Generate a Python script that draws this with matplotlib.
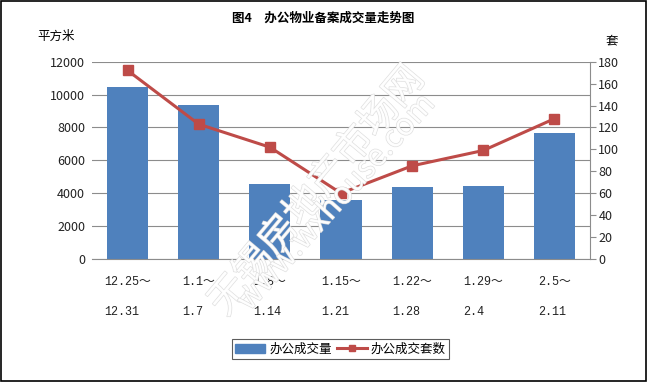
import numpy as np
import matplotlib
matplotlib.use('Agg')
import matplotlib.pyplot as plt
import matplotlib.patheffects as pe
from matplotlib.patches import Rectangle
from matplotlib.lines import Line2D

plt.rcParams['font.family'] = ['Noto Sans CJK SC', 'DejaVu Sans']

# 数据
weeks = ['12.25～\n\n12.31', '1.1～\n\n1.7', '1.8～\n\n1.14', '1.15～\n\n1.21',
         '1.22～\n\n1.28', '1.29～\n\n2.4', '2.5～\n\n2.11']
area = [10450, 9370, 4580, 3600, 4400, 4460, 7680]  # 办公成交量（平方米）
units = [172, 123, 102, 60, 85, 99, 128]  # 办公成交套数
left_ticks = [0, 2000, 4000, 6000, 8000, 10000, 12000]
right_ticks = [0, 20, 40, 60, 80, 100, 120, 140, 160, 180]

bar_color = '#4F81BD'
line_color = '#BE4B48'
grid_color = '#8C8C8C'

fig = plt.figure(figsize=(6.47, 3.82), dpi=100)
ax = fig.add_axes([0.1422, 0.322, 0.7697, 0.5165])
x = np.arange(len(area))

ax.bar(x, area, width=0.58, color=bar_color, zorder=2)
ax.set_xlim(-0.5, len(area) - 0.5)
ax.set_ylim(0, 12000)
ax.set_yticks(left_ticks)
ax.yaxis.grid(True, color=grid_color, linewidth=0.8, zorder=0)
ax.set_axisbelow(True)
for s in ['top', 'left', 'right']:
    ax.spines[s].set_visible(False)
ax.spines['bottom'].set_color(grid_color)
ax.tick_params(axis='y', length=0, pad=5, labelsize=9, labelcolor='#222222')
ax.tick_params(axis='x', length=0, pad=12)
ax.set_xticks(x)
ax.set_xticklabels(weeks, family=['Liberation Mono', 'Noto Sans CJK SC'], fontsize=8.5,
                   linespacing=1.35, multialignment='left', color='#222222')

ax2 = ax.twinx()
ax2.plot(x, units, color=line_color, linewidth=2.2, marker='s', markersize=6.5, zorder=3)
ax2.set_ylim(0, 180)
ax2.set_yticks(right_ticks)
for s in ['top', 'left', 'bottom']:
    ax2.spines[s].set_visible(False)
ax2.spines['right'].set_color(grid_color)
ax2.tick_params(axis='y', length=4, color=grid_color, pad=2, labelsize=9, labelcolor='#222222')

fig.text(0.5, 0.953, '图4　办公物业备案成交量走势图', ha='center', va='center',
         fontsize=9, fontweight='bold')
fig.text(0.058, 0.906, '平方米', ha='left', va='center', fontsize=9)
fig.text(0.945, 0.893, '套', ha='center', va='center', fontsize=9)

# 水印
wm = dict(color='white', alpha=0.9, fontsize=28, ha='center', va='center', zorder=5,
          path_effects=[pe.withStroke(linewidth=0.9, foreground='#DADADA')])
fig.text(0.49, 0.5, '无锡房地产市场网', rotation=50, **wm)
wm['fontsize'] = 22
fig.text(0.52, 0.47, 'www.wxhouse.com', rotation=48, **wm)

handles = [Rectangle((0, 0), 1, 1, color=bar_color),
           Line2D([], [], color=line_color, linewidth=2.2, marker='s', markersize=5)]
leg = fig.legend(handles, ['办公成交量', '办公成交套数'], loc='center',
                 bbox_to_anchor=(0.526, 0.086), ncol=2, fontsize=9, frameon=True,
                 fancybox=False, edgecolor='#333333', handlelength=2.4,
                 handletextpad=0.3, columnspacing=0.4, borderpad=0.3)
leg.get_frame().set_linewidth(0.8)

fig.patches.append(Rectangle((0.002, 0.003), 0.996, 0.994, transform=fig.transFigure,
                             fill=False, edgecolor='black', linewidth=1.2))

fig.savefig('out.png', dpi=100)
